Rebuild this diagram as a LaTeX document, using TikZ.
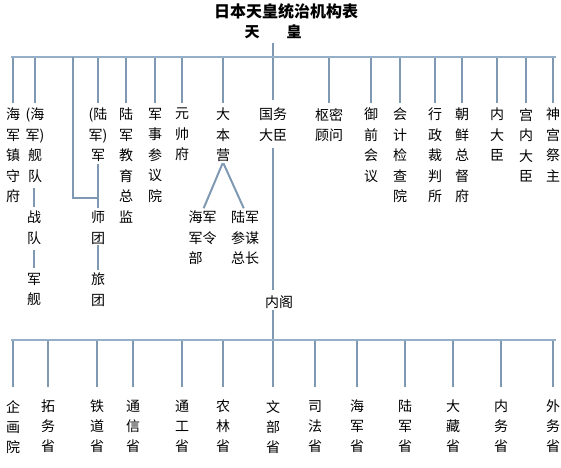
\documentclass[tikz,border=0pt]{standalone}
\usepackage{fontspec}
\usepackage{tikz}
\usepackage{xcolor}
\newfontfamily\cjk{Noto Sans CJK SC}
\definecolor{linkblue}{RGB}{127,153,178}
\definecolor{barblue}{RGB}{150,175,200}

\begin{document}
\begin{tikzpicture}[x=1pt, y=-1pt,
  lbl/.style={font=\cjk\fontsize{14}{20.5}\selectfont, align=center, inner sep=0pt, anchor=north},
  sub/.style={lbl, font=\cjk\fontsize{14}{20}\selectfont},
  conn/.style={draw=linkblue, line width=2pt},
  hbar/.style={draw=barblue, line width=2.5pt}]
\useasboundingbox (0,0) rectangle (561,467);

\node (title) at (286,11) [font=\cjk\bfseries\fontsize{16}{16}\selectfont] {日本天皇统治机构表};
\node (emperor) at (273,32) [font=\cjk\bfseries\fontsize{15}{15}\selectfont] {天\hspace{27pt}皇};

% first rank under the emperor
\node (navybase) at (13,108) [lbl] {海\\军\\镇\\守\\府};
\node (fleet) at (35,108) [lbl] {(海\\军)\\舰\\队};
\node (army) at (98,108) [lbl] {(陆\\军)\\军};
\node (training) at (126,108) [lbl] {陆\\军\\教\\育\\总\\监};
\node (council) at (155,108) [lbl] {军\\事\\参\\议\\院};
\node (marshal) at (182,108) [lbl] {元\\帅\\府};
\node (hq) at (223,108) [lbl] {大\\本\\营};
\node (state) at (273,108) [lbl] {国务\\大臣};
\node (privy) at (329,108) [lbl] {枢密\\顾问};
\node (imperial) at (371,108) [lbl] {御\\前\\会\\议};
\node (audit) at (400,108) [lbl] {会\\计\\检\\查\\院};
\node (court) at (435,108) [lbl] {行\\政\\裁\\判\\所};
\node (korea) at (462,108) [lbl] {朝\\鲜\\总\\督\\府};
\node (seal) at (497,108) [lbl] {内\\大\\臣};
\node (household) at (526,108) [lbl] {宫\\内\\大\\臣};
\node (shrine) at (553,108) [lbl] {神\\宫\\祭\\主};

% second rank
\node (squad) at (34,211) [lbl] {战\\队};
\node (ship) at (34,273) [lbl] {军\\舰};
\node (division) at (98,211) [lbl] {师\\团};
\node (brigade) at (98,273) [lbl] {旅\\团};
\node (navyhq) at (202.5,211) [lbl, align=left] {海军\\军令\\部};
\node (armyhq) at (245,211) [lbl, align=left] {陆军\\参谋\\总长};
\node (cabinet) at (279,295) [lbl] {内阁};

% ministries under the cabinet
\node (planning) at (13,400) [sub] {企\\画\\院};
\node (colonial) at (48,400) [sub] {拓\\务\\省};
\node (railway) at (97,400) [sub] {铁\\道\\省};
\node (postal) at (133,400) [sub] {通\\信\\省};
\node (industry) at (182,400) [sub] {通\\工\\省};
\node (farming) at (223,400) [sub] {农\\林\\省};
\node (education) at (273,400) [sub] {文\\部\\省};
\node (justice) at (315,400) [sub] {司\\法\\省};
\node (navymin) at (357,400) [sub] {海\\军\\省};
\node (armymin) at (405,400) [sub] {陆\\军\\省};
\node (finance) at (453,400) [sub] {大\\藏\\省};
\node (home) at (501,400) [sub] {内\\务\\省};
\node (foreign) at (553,400) [sub] {外\\务\\省};

\coordinate (topL) at (11,57);
\coordinate (topR) at (556,57);
\coordinate (botL) at (11,340);
\coordinate (botR) at (556,340);
\coordinate (armybranch) at (73,57);
\coordinate (armyjoin) at (98,198);

% emperor down to the cabinet
\draw[conn, shorten >=8pt] (emperor.south) -- (state.north);
\draw[conn, shorten <=6pt, shorten >=5pt] (state.south) -- (cabinet.north -| state);
\draw[conn, shorten <=2pt, shorten >=13pt] (cabinet.south -| education) -- (education.north);

% drops from the upper bar
\draw[conn, shorten >=5pt] (navybase.north |- topL) -- (navybase.north);
\draw[conn, shorten >=5pt] (fleet.north |- topL) -- (fleet.north);
\draw[conn, shorten >=5pt] (army.north |- topL) -- (army.north);
\draw[conn, shorten >=5pt] (training.north |- topL) -- (training.north);
\draw[conn, shorten >=5pt] (council.north |- topL) -- (council.north);
\draw[conn, shorten >=5pt] (marshal.north |- topL) -- (marshal.north);
\draw[conn, shorten >=5pt] (hq.north |- topL) -- (hq.north);
\draw[conn, shorten >=5pt] (privy.north |- topL) -- (privy.north);
\draw[conn, shorten >=5pt] (imperial.north |- topL) -- (imperial.north);
\draw[conn, shorten >=5pt] (audit.north |- topL) -- (audit.north);
\draw[conn, shorten >=5pt] (court.north |- topL) -- (court.north);
\draw[conn, shorten >=5pt] (korea.north |- topL) -- (korea.north);
\draw[conn, shorten >=5pt] (seal.north |- topL) -- (seal.north);
\draw[conn, shorten >=5pt] (household.north |- topL) -- (household.north);
\draw[conn, shorten >=5pt] (shrine.north |- topL) -- (shrine.north);
\draw[hbar] (topL) -- (topR);

% navy and army chains
\draw[conn, shorten <=5pt, shorten >=4pt] (fleet.south -| squad) -- (squad.north);
\draw[conn, shorten <=5pt, shorten >=5pt] (squad.south) -- (ship.north);
\draw[conn] (armybranch) |- (armyjoin);
\draw[conn, shorten <=2pt, shorten >=3pt] (army.south) -- (division.north);
\draw[conn, shorten >=3pt] (division.south) -- (brigade.north);
\draw[conn, shorten <=1pt, shorten >=3pt] (hq.south) -- (navyhq.north);
\draw[conn, shorten <=1pt, shorten >=3pt] (hq.south) -- (armyhq.north);

% drops from the lower bar
\draw[conn, shorten >=13pt] (planning.north |- botL) -- (planning.north);
\draw[conn, shorten >=13pt] (colonial.north |- botL) -- (colonial.north);
\draw[conn, shorten >=13pt] (railway.north |- botL) -- (railway.north);
\draw[conn, shorten >=13pt] (postal.north |- botL) -- (postal.north);
\draw[conn, shorten >=13pt] (industry.north |- botL) -- (industry.north);
\draw[conn, shorten >=13pt] (farming.north |- botL) -- (farming.north);
\draw[conn, shorten >=13pt] (justice.north |- botL) -- (justice.north);
\draw[conn, shorten >=13pt] (navymin.north |- botL) -- (navymin.north);
\draw[conn, shorten >=13pt] (armymin.north |- botL) -- (armymin.north);
\draw[conn, shorten >=13pt] (finance.north |- botL) -- (finance.north);
\draw[conn, shorten >=13pt] (home.north |- botL) -- (home.north);
\draw[conn, shorten >=13pt] (foreign.north |- botL) -- (foreign.north);
\draw[hbar] (botL) -- (botR);
\end{tikzpicture}
\end{document}
